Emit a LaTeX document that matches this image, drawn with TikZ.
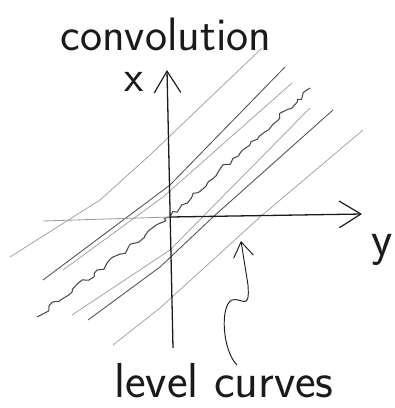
\documentclass[tikz,border=0pt]{standalone}
\usepackage{fontspec}
\usepackage{tikz}
\usetikzlibrary{arrows.meta,decorations.pathmorphing}
\definecolor{cInk}{HTML}{1A1A1A}
\definecolor{cFaint}{HTML}{9A9A9A}
\definecolor{cDark}{HTML}{4A4A4A}
\tikzset{
  axis/.style    ={cInk,line width=1.1pt,-{Straight Barb[length=6.5mm,width=8mm,line width=1pt]}},
  faint axis/.style={cFaint,line width=0.7pt},
  lvl/.style     ={cFaint,line width=0.6pt,line join=round},
  lvl dark/.style={cDark,line width=0.7pt,line join=round},
  ridge/.style   ={cDark,line width=0.9pt,line join=round,decorate,
                   decoration={random steps,segment length=4.5pt,amplitude=2.4pt}},
  pointer/.style ={cInk,line width=0.8pt,-{Straight Barb[length=4.5mm,width=6mm,line width=0.8pt]}},
  hand/.style    ={cInk,font=\sffamily\fontsize{36}{40}\selectfont,inner sep=0pt},
}

\begin{document}
\begin{tikzpicture}[x=0.03cm,y=-0.03cm]
  \useasboundingbox (0,0) rectangle (395,408);
  % origin and axis ends
  \coordinate (O) at (170,217);
  \coordinate (xbot) at (173,348);
  \coordinate (xtip) at (167,70);
  \coordinate (yleft) at (43,221);
  \coordinate (ytip) at (362,214);
  % level curves
  \draw[lvl] (10,257) -- (100,200) -- (150,155) -- (262,48);
  \draw[lvl dark] (43,280) -- (170,185) -- (285,67);
  \draw[lvl] (63,270) -- (163,197) -- (292,83);
  \draw[lvl] (72,315) -- (170,250) -- (310,108);
  \draw[lvl dark] (88,320) -- (160,267) -- (213,217) -- (333,110);
  \draw[lvl] (113,345) -- (160,308) -- (260,217) -- (363,130);
  \draw[ridge] (37,317) -- (O) -- (310,88);
  % axes
  \draw[faint axis] (yleft) -- (O);
  \draw[axis] (xbot) -- (xtip);
  \draw[axis] (O) -- (ytip);
  \node[hand,font=\sffamily\fontsize{38}{40}\selectfont] (xlbl) at (134,82) {x};
  \node[hand,font=\sffamily\fontsize{42}{44}\selectfont] (ylbl) at (382,250) {y};
  % labels
  \node[hand,anchor=base,font=\sffamily\fontsize{40}{44}\selectfont] (title) at (166,50) {convolution};
  \node[hand,anchor=base,font=\sffamily\fontsize{42}{44}\selectfont] (lvlbl) at (224,397) {level curves};
  \coordinate (lvstart) at (237,365);
  \coordinate (lvtip) at (241,241);
  \draw[pointer] (lvstart) .. controls (222,350) and (220,305) .. (232,300)
    .. controls (242,297) and (250,312) .. (248,285) -- (lvtip);
\end{tikzpicture}
\end{document}
